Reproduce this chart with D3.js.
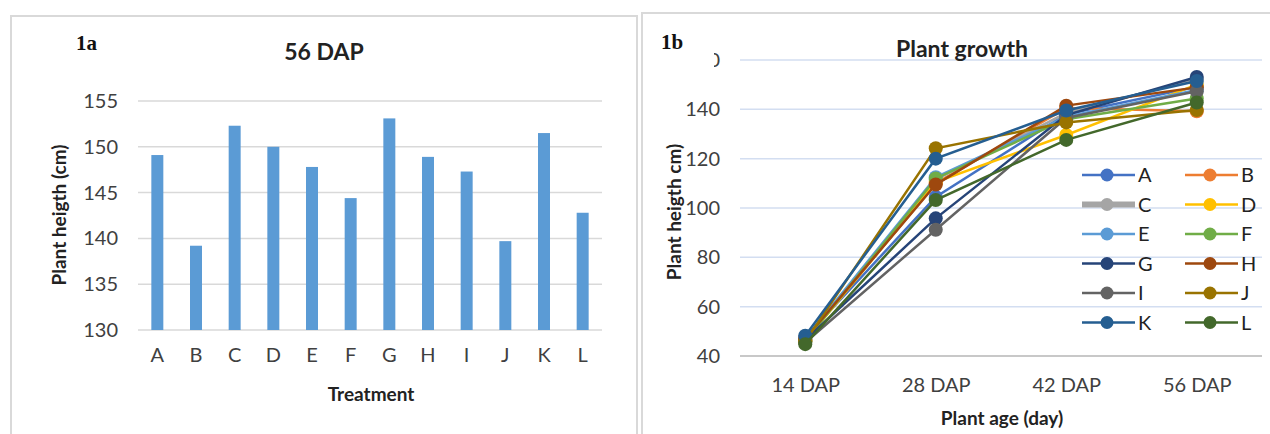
<!DOCTYPE html>
<html>
<head>
<meta charset="utf-8">
<script src="https://cdn.jsdelivr.net/npm/d3@7"></script>
<style>
  body { margin: 0; background: #fff; }
  svg { font-family: Lato, "Open Sans", sans-serif; }
</style>
</head>
<body>
<script>
// chart 1a data
var treatments = ['A', 'B', 'C', 'D', 'E', 'F', 'G', 'H', 'I', 'J', 'K', 'L'];
var height56 = [149.1, 139.2, 152.3, 150.0, 147.8, 144.4, 153.1, 148.9, 147.3, 139.7, 151.5, 142.8];
var barTicks = [130, 135, 140, 145, 150, 155];

// chart 1b data
var ages = ['14 DAP', '28 DAP', '42 DAP', '56 DAP'];
var growthA = [47.5, 104.5, 138.0, 149.1];
var growthB = [46.5, 110.0, 140.5, 139.2];
var growthC = [46.5, 111.5, 138.5, 152.3];
var growthD = [46.0, 110.5, 129.6, 150.0];
var growthE = [47.0, 112.5, 137.0, 147.8];
var growthF = [46.0, 112.0, 136.0, 144.4];
var growthG = [46.5, 95.8, 137.7, 153.1];
var growthH = [47.0, 109.5, 141.5, 148.9];
var growthI = [45.5, 91.2, 136.5, 147.3];
var growthJ = [46.0, 124.2, 134.7, 139.7];
var growthK = [48.2, 120.0, 139.5, 151.5];
var growthL = [44.8, 103.2, 127.6, 142.8];
var lineTicks = [40, 60, 80, 100, 120, 140, 160];
var colors = ['#4472C4', '#ED7D31', '#A5A5A5', '#FFC000', '#5B9BD5', '#70AD47',
              '#264478', '#9E480E', '#636363', '#997300', '#255E91', '#43682B'];

var series = [growthA, growthB, growthC, growthD, growthE, growthF,
              growthG, growthH, growthI, growthJ, growthK, growthL]
  .map((vals, i) => ({ name: treatments[i], values: vals, color: colors[i] }));

var svg = d3.select('body').append('svg')
  .attr('width', 1270)
  .attr('height', 434);

// panel frames
svg.append('rect').attr('x', 11).attr('y', 16).attr('width', 626).attr('height', 440)
  .attr('fill', '#fff').attr('stroke', '#d9d9d9').attr('stroke-width', 2);
svg.append('rect').attr('x', 642).attr('y', 13).attr('width', 640).attr('height', 440)
  .attr('fill', '#fff').attr('stroke', '#d9d9d9').attr('stroke-width', 2);

// ---------- 1a : bar chart ----------
var x1 = d3.scaleBand()
  .domain(treatments)
  .range([138, 602])
  .paddingInner(0.69)
  .paddingOuter(0.345);

var y1 = d3.scaleLinear()
  .domain([130, 155])
  .range([330, 101]);

var g1 = svg.append('g');

g1.selectAll('.grid1')
  .data(barTicks)
  .enter()
  .append('line')
  .attr('class', 'grid1')
  .attr('x1', 138).attr('x2', 602)
  .attr('y1', d => y1(d)).attr('y2', d => y1(d))
  .attr('stroke', '#d9d9d9')
  .attr('stroke-width', 1.5);

g1.selectAll('.bar')
  .data(height56)
  .enter()
  .append('rect')
  .attr('class', 'bar')
  .attr('x', (d, i) => x1(treatments[i]))
  .attr('width', x1.bandwidth())
  .attr('y', d => y1(d))
  .attr('height', d => y1(130) - y1(d))
  .attr('fill', '#5B9BD5');

var left1 = g1.append('g')
  .attr('transform', 'translate(138,0)')
  .call(d3.axisLeft(y1).tickValues(barTicks).tickSize(0).tickPadding(20));
left1.select('.domain').remove();
left1.selectAll('text').attr('font-size', '20px').attr('fill', '#404040')
  .attr('font-family', 'Lato, sans-serif');

var bottom1 = g1.append('g')
  .attr('transform', 'translate(0,330)')
  .call(d3.axisBottom(x1).tickSize(0).tickPadding(18));
bottom1.select('.domain').remove();
bottom1.selectAll('text').attr('font-size', '20px').attr('fill', '#404040')
  .attr('font-family', 'Lato, sans-serif');

svg.append('text')
  .attr('x', 324).attr('y', 60)
  .attr('text-anchor', 'middle')
  .attr('font-size', '23px').attr('font-weight', 'bold').attr('fill', '#222')
  .text('56 DAP');

svg.append('text')
  .attr('x', 76).attr('y', 50)
  .attr('font-family', '"Liberation Serif", serif')
  .attr('font-size', '21px').attr('font-weight', 'bold').attr('fill', '#111')
  .text('1a');

svg.append('text')
  .attr('transform', 'translate(59,215) rotate(-90)')
  .attr('text-anchor', 'middle')
  .attr('dy', '0.35em')
  .attr('font-size', '19px').attr('font-weight', 'bold').attr('fill', '#222')
  .text('Plant heigth (cm)');

svg.append('text')
  .attr('x', 371).attr('y', 401)
  .attr('text-anchor', 'middle')
  .attr('font-size', '19px').attr('font-weight', 'bold').attr('fill', '#222')
  .text('Treatment');

// ---------- 1b : line chart ----------
var x2 = d3.scalePoint()
  .domain(ages)
  .range([740, 1262])
  .padding(0.5);

var y2 = d3.scaleLinear()
  .domain([40, 160])
  .range([356, 60]);

var g2 = svg.append('g');

g2.selectAll('.grid2')
  .data(lineTicks.slice(1))
  .enter()
  .append('line')
  .attr('class', 'grid2')
  .attr('x1', 740).attr('x2', 1262)
  .attr('y1', d => y2(d)).attr('y2', d => y2(d))
  .attr('stroke', '#d3def1')
  .attr('stroke-width', 1.5);

g2.append('line')
  .attr('x1', 740).attr('x2', 1262)
  .attr('y1', y2(40)).attr('y2', y2(40))
  .attr('stroke', '#c8c8c8')
  .attr('stroke-width', 2);

var left2 = g2.append('g')
  .attr('transform', 'translate(740,0)')
  .call(d3.axisLeft(y2).tickValues(lineTicks).tickSize(0).tickPadding(20));
left2.select('.domain').remove();
left2.selectAll('text').attr('font-size', '20px').attr('fill', '#404040')
  .attr('font-family', 'Lato, sans-serif');

// the top label is mostly hidden behind the panel label box
g2.append('rect')
  .attr('x', 644).attr('y', 45).attr('width', 70).attr('height', 28)
  .attr('fill', '#fff');

var bottom2 = g2.append('g')
  .attr('transform', 'translate(0,356)')
  .call(d3.axisBottom(x2).tickSize(0).tickPadding(22));
bottom2.select('.domain').remove();
bottom2.selectAll('text').attr('font-size', '20px').attr('fill', '#404040')
  .attr('font-family', 'Lato, sans-serif');

var line = d3.line()
  .x((d, i) => x2(ages[i]))
  .y(d => y2(d));

series.forEach(s => {
  g2.append('path')
    .datum(s.values)
    .attr('d', line)
    .attr('fill', 'none')
    .attr('stroke', s.color)
    .attr('stroke-width', 2.5);
  g2.selectAll('.pt' + s.name)
    .data(s.values)
    .enter()
    .append('circle')
    .attr('cx', (d, i) => x2(ages[i]))
    .attr('cy', d => y2(d))
    .attr('r', 7)
    .attr('fill', s.color);
});

// legend
var legend = g2.selectAll('.legendItem')
  .data(series)
  .enter()
  .append('g')
  .attr('class', 'legendItem')
  .attr('transform', (d, i) => `translate(${1082 + (i % 2) * 103},${175 + Math.floor(i / 2) * 29.5})`);

legend.append('line')
  .attr('x1', 0).attr('x2', 53)
  .attr('stroke', d => d.color)
  .attr('stroke-width', d => d.name === 'C' ? 6 : 2.5);
legend.append('circle')
  .attr('cx', 25).attr('r', 6.5)
  .attr('fill', d => d.color);
legend.append('text')
  .attr('x', 56).attr('dy', '0.36em')
  .attr('font-size', '20px').attr('fill', '#222')
  .text(d => d.name);

svg.append('text')
  .attr('x', 962).attr('y', 57)
  .attr('text-anchor', 'middle')
  .attr('font-size', '23px').attr('font-weight', 'bold').attr('fill', '#222')
  .text('Plant growth');

svg.append('text')
  .attr('x', 661).attr('y', 49)
  .attr('font-family', '"Liberation Serif", serif')
  .attr('font-size', '21px').attr('font-weight', 'bold').attr('fill', '#111')
  .text('1b');

svg.append('text')
  .attr('transform', 'translate(674,212) rotate(-90)')
  .attr('text-anchor', 'middle')
  .attr('dy', '0.35em')
  .attr('font-size', '19px').attr('font-weight', 'bold').attr('fill', '#222')
  .text('Plant heigth cm)');

svg.append('text')
  .attr('x', 1002).attr('y', 425)
  .attr('text-anchor', 'middle')
  .attr('font-size', '19px').attr('font-weight', 'bold').attr('fill', '#222')
  .text('Plant age (day)');
</script>
</body>
</html>
